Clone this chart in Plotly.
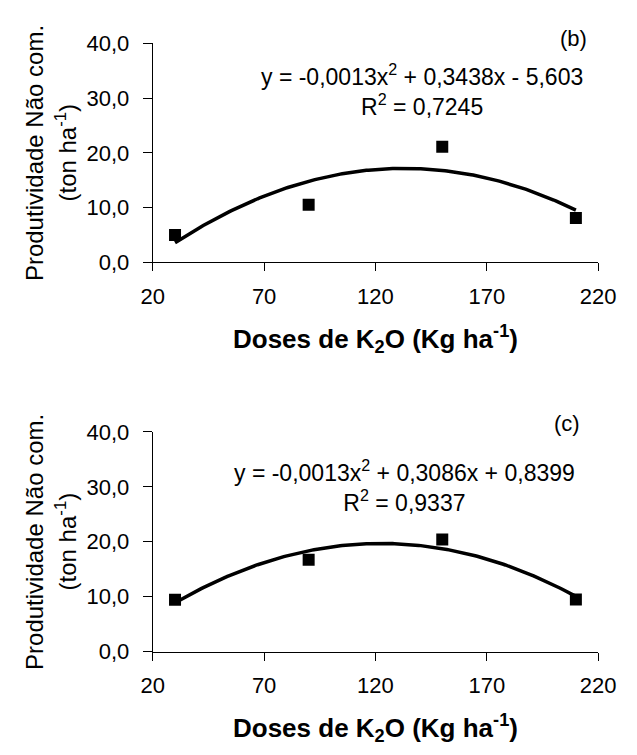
import numpy as np
import plotly.graph_objects as go

# page offset: the browser body has an 8px margin; size the figure so the page fits the window
OFF = 8
W, H = 637 - 2 * OFF, 755 - 2 * OFF

# ---- data ----
doses = [30, 90, 150, 210]
prod_b = [5.0, 10.5, 21.1, 8.1]
prod_c = [9.45, 16.7, 20.4, 9.5]

x_ticks = [20, 70, 120, 170, 220]
x_ticktext = ["20", "70", "120", "170", "220"]
y_ticks = [0, 10, 20, 30, 40]
y_ticktext = ["0,0", "10,0", "20,0", "30,0", "40,0"]

eq_b = "y = -0,0013x<sup>2</sup> + 0,3438x - 5,603<br>R<sup>2</sup> = 0,7245"
eq_c = "y = -0,0013x<sup>2</sup> + 0,3086x + 0,8399<br>R<sup>2</sup> = 0,9337"
panel_labels = ["(b)", "(c)"]
x_title = "<b>Doses de K<sub>2</sub>O (Kg ha<sup>-1</sup>)</b>"
y_title_1 = "Produtividade Não com."
y_title_2 = "(ton ha<sup>-1</sup>)"

FONT = "Liberation Sans, Arial, sans-serif"


def px_x(p):
    return (p - OFF) / W


def px_y(p):
    return 1 - (p - OFF) / H


fig = go.Figure()

panels = [
    dict(data=prod_b, eq=eq_b, lab=panel_labels[0], top=32.3, bot=258.7,
         xa="x", ya="y", eqx=430, eqy=80, labx=590, laby=27),
    dict(data=prod_c, eq=eq_c, lab=panel_labels[1], top=434.3, bot=661.7,
         xa="x2", ya="y2", eqx=412, eqy=490, labx=583, laby=425.5),
]

annotations = []
for i, p in enumerate(panels):
    coef = np.polyfit(doses, p["data"], 2)
    xs = np.linspace(min(doses), max(doses), 200)
    fig.add_trace(go.Scatter(x=xs, y=np.polyval(coef, xs), mode="lines",
                             line=dict(color="black", width=3.5),
                             xaxis=p["xa"], yaxis=p["ya"], hoverinfo="skip"))
    fig.add_trace(go.Scatter(x=doses, y=p["data"], mode="markers",
                             marker=dict(symbol="square", size=12, color="black"),
                             xaxis=p["xa"], yaxis=p["ya"]))
    suffix = "" if i == 0 else str(i + 1)
    dom_y = [px_y(p["bot"]), px_y(p["top"])]
    fig.layout["xaxis" + suffix] = dict(
        domain=[px_x(147.5), px_x(615.5)], range=[20, 220],
        tickvals=x_ticks, ticktext=x_ticktext,
        showline=True, linecolor="black", linewidth=1,
        ticks="outside", ticklen=8, tickwidth=1, tickcolor="black",
        showgrid=False, zeroline=False, ticklabelstandoff=6,
        ticklabeloverflow="allow",
        tickfont=dict(family=FONT, size=22, color="black"),
        anchor="y" + suffix,
    )
    fig.layout["yaxis" + suffix] = dict(
        domain=dom_y, range=[0, 40],
        tickvals=y_ticks, ticktext=y_ticktext,
        showline=True, linecolor="black", linewidth=1,
        ticks="outside", ticklen=9, tickwidth=1, tickcolor="black",
        showgrid=False, zeroline=False, ticklabelstandoff=9,
        ticklabeloverflow="allow",
        tickfont=dict(family=FONT, size=22, color="black"),
        anchor="x" + suffix,
    )
    mid = (p["top"] + p["bot"]) / 2
    annotations += [
        dict(text=p["eq"], x=px_x(p["eqx"]), y=px_y(p["eqy"]), xref="paper", yref="paper",
             xanchor="center", yanchor="middle", align="center", showarrow=False,
             font=dict(family=FONT, size=23, color="black")),
        dict(text=p["lab"], x=px_x(p["labx"]), y=px_y(p["laby"]), xref="paper", yref="paper",
             xanchor="center", yanchor="middle", showarrow=False,
             font=dict(family=FONT, size=22, color="black")),
        dict(text=y_title_1, x=px_x(24), y=px_y(mid), xref="paper", yref="paper",
             xanchor="center", yanchor="middle", textangle=-90, showarrow=False,
             font=dict(family=FONT, size=24, color="black")),
        dict(text=y_title_2, x=px_x(56), y=px_y(mid), xref="paper", yref="paper",
             xanchor="center", yanchor="middle", textangle=-90, showarrow=False,
             font=dict(family=FONT, size=24, color="black")),
        dict(text=x_title, x=px_x(382), y=px_y(p["bot"] + 79), xref="paper", yref="paper",
             xanchor="center", yanchor="middle", showarrow=False,
             font=dict(family=FONT, size=26, color="black")),
    ]

fig.update_layout(
    width=W, height=H,
    margin=dict(l=0, r=0, t=0, b=0),
    paper_bgcolor="white", plot_bgcolor="white",
    showlegend=False,
    annotations=annotations,
)

fig.write_html("out.html")
